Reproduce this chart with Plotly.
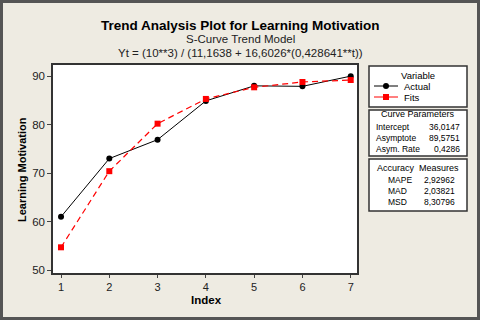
import plotly.graph_objects as go

# data
index = [1, 2, 3, 4, 5, 6, 7]
actual = [61.0, 73.0, 76.9, 84.9, 88.0, 87.9, 90.0]
fits = [54.7, 70.4, 80.2, 85.3, 87.7, 88.8, 89.2]

curve_labels = ["Intercept", "Asymptote", "Asym. Rate"]
curve_values = ["36,0147", "89,5751", "0,4286"]
accuracy_labels = ["MAPE", "MAD", "MSD"]
accuracy_values = ["2,92962", "2,03821", "8,30796"]

FONT = "Liberation Sans"
BG = "#EEEBE2"

# plot area in pixels (480x320 canvas)
L, R, T, B = 53, 357, 65, 273
W, H = R - L, B - T


def px(x):
    return (x - L) / W


def py(y):
    return (B - y) / H


fig = go.Figure()

fig.add_trace(go.Scatter(
    x=index, y=actual, name="Actual", mode="lines+markers",
    line=dict(color="black", width=1),
    marker=dict(symbol="circle", size=6, color="black")
))
fig.add_trace(go.Scatter(
    x=index, y=fits, name="Fits", mode="lines+markers",
    line=dict(color="#FF0000", width=1.2, dash="6px,4px"),
    marker=dict(symbol="square", size=6, color="#FF0000")
))

shapes = []
annotations = []

# outer frame
shapes.append(dict(type="rect", xref="paper", yref="paper",
                   x0=px(1.5), x1=px(478.5), y0=py(318.5), y1=py(1.5),
                   line=dict(color="#555555", width=3), layer="below"))

# legend boxes
boxes = [(66, 107), (110, 156), (159, 211)]
for y0, y1 in boxes:
    shapes.append(dict(type="rect", xref="paper", yref="paper",
                       x0=px(369), x1=px(467), y0=py(y1), y1=py(y0),
                       line=dict(color="#333333", width=1.5),
                       fillcolor="white"))


def text(x, y, s, anchor="center", size=10, bold=False, color="black"):
    annotations.append(dict(
        x=px(x), y=py(y), xref="paper", yref="paper",
        text=f"<b>{s}</b>" if bold else s, showarrow=False,
        xanchor=anchor, yanchor="middle",
        font=dict(family=FONT, size=size, color=color)))


# variable legend
text(418, 75, "Variable", size=9.5)
shapes.append(dict(type="line", xref="paper", yref="paper",
                   x0=px(374), x1=px(398), y0=py(86), y1=py(86),
                   line=dict(color="black", width=1)))
shapes.append(dict(type="circle", xref="paper", yref="paper",
                   x0=px(383), x1=px(389), y0=py(89), y1=py(83),
                   line=dict(color="black", width=0), fillcolor="black"))
text(402, 86, "Actual", anchor="left", size=9.5)
shapes.append(dict(type="line", xref="paper", yref="paper",
                   x0=px(374), x1=px(398), y0=py(97), y1=py(97),
                   line=dict(color="#FF0000", width=1)))
shapes.append(dict(type="rect", xref="paper", yref="paper",
                   x0=px(383), x1=px(389), y0=py(100), y1=py(94),
                   line=dict(color="#FF0000", width=0), fillcolor="#FF0000"))
text(402, 97, "Fits", anchor="left", size=9.5)

# curve parameters
text(418, 114, "Curve Parameters", size=9)
for i, (lab, val) in enumerate(zip(curve_labels, curve_values)):
    yy = 127 + i * 11
    text(374, yy, lab, anchor="left", size=8.5)
    text(462, yy, val, anchor="right", size=8.5)

# accuracy measures
text(418, 168, "Accuracy  Measures", size=9)
for i, (lab, val) in enumerate(zip(accuracy_labels, accuracy_values)):
    yy = 179.5 + i * 11.3
    text(386, yy, lab, anchor="left", size=8.5)
    text(422, yy, val, anchor="left", size=8.5)

# titles
text(240, 25, "Trend Analysis Plot for Learning Motivation", size=13.5, bold=True)
text(240, 39, "S-Curve Trend Model", size=11.5, color="#222222")
text(240, 53, "Yt = (10**3) / (11,1638 + 16,6026*(0,428641**t))", size=11.5, color="#222222")

# axis titles
text(206, 300, "Index", size=11.5, bold=True)
annotations.append(dict(x=px(22), y=py(170), xref="paper", yref="paper",
                        text="<b>Learning Motivation</b>", showarrow=False,
                        textangle=-90, xanchor="center", yanchor="middle",
                        font=dict(family=FONT, size=11, color="black")))

fig.update_layout(
    width=480, height=320,
    margin=dict(l=L, r=480 - R, t=T, b=320 - B),
    paper_bgcolor=BG, plot_bgcolor="white",
    showlegend=False,
    font=dict(family=FONT, size=11, color="#222222"),
    xaxis=dict(range=[0.834, 7.13], tickvals=index, ticks="outside", ticklen=3,
               tickcolor="#444444", showgrid=False, zeroline=False,
               showline=True, linecolor="#333333", linewidth=1.5, mirror=True,
               tickfont=dict(family=FONT, size=11)),
    yaxis=dict(range=[49.4, 92.3], tickvals=[50, 60, 70, 80, 90], ticks="outside",
               ticklen=4, tickcolor="#444444", showgrid=False, zeroline=False,
               showline=True, linecolor="#333333", linewidth=1.5, mirror=True,
               tickfont=dict(family=FONT, size=11.5)),
    shapes=shapes,
    annotations=annotations,
)

fig.write_html("out.html", config={"displayModeBar": False},
               post_script="document.body.style.margin='0px';")
